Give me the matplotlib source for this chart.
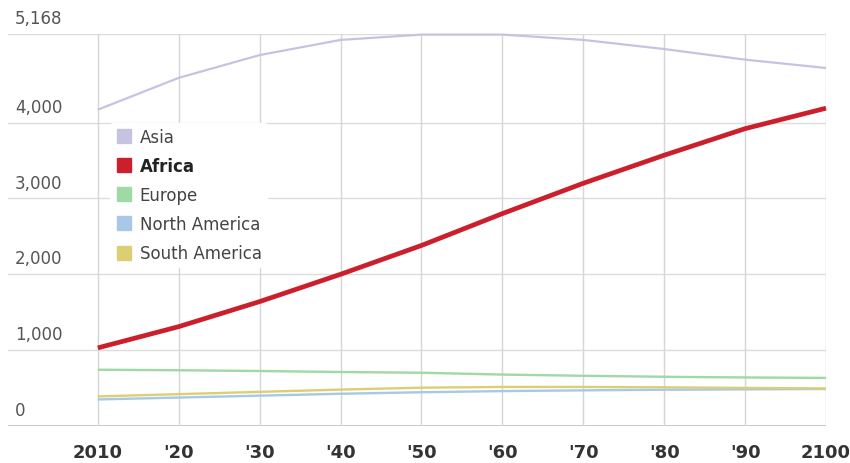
import matplotlib.pyplot as plt
import matplotlib.transforms as mtransforms
from matplotlib.lines import Line2D

# Population projections (millions) by region
years = [2010, 2020, 2030, 2040, 2050, 2060, 2070, 2080, 2090, 2100]
asia = [4170, 4590, 4890, 5090, 5160, 5160, 5090, 4970, 4830, 4720]
africa = [1030, 1310, 1640, 2000, 2380, 2800, 3200, 3570, 3920, 4190]
europe = [742, 735, 725, 712, 702, 678, 662, 649, 640, 634]
north_america = [350, 375, 400, 425, 445, 460, 470, 478, 483, 488]
south_america = [390, 420, 450, 480, 505, 515, 515, 510, 502, 495]

regions = ["Asia", "Africa", "Europe", "North America", "South America"]
series = [asia, africa, europe, north_america, south_america]
colors = ["#c6c3e2", "#cc1f2c", "#9fd9a6", "#a9c7e6", "#dccf73"]
widths = [1.6, 3.4, 1.7, 1.7, 1.7]

y_ticks = [0, 1000, 2000, 3000, 4000, 5168]
y_labels = ["0", "1,000", "2,000", "3,000", "4,000", "5,168"]
x_labels = ["2010", "'20", "'30", "'40", "'50", "'60", "'70", "'80", "'90", "2100"]

plt.rcParams['font.family'] = ['DejaVu Sans']

fig = plt.figure(figsize=(8.5, 4.64), dpi=100)
ax = fig.add_axes([8 / 850, 1 - 427 / 464, 818 / 850, 392 / 464])

# grid
for yv in y_ticks:
    ax.axhline(yv, color="#bdbdbd" if yv == 0 else "#dcdcdc", lw=1.2 if yv == 0 else 1.0, zorder=0)
for xv in years:
    ax.axvline(xv, color="#d6d6d6", lw=1.0, zorder=0)

# lines, Africa drawn last so it stays on top
order = [0, 2, 3, 4, 1]
for i in order:
    ax.plot(years, series[i], color=colors[i], lw=widths[i], clip_on=False,
            solid_capstyle="butt", zorder=3 if i == 1 else 2)

ax.set_xlim(1998.9, 2100)
ax.set_ylim(0, 5168)
for s in ax.spines.values():
    s.set_visible(False)

ax.set_xticks(years)
ax.set_xticklabels(x_labels, fontsize=13, fontweight="bold", color="#333333")
ax.set_yticks(y_ticks)
ax.set_yticklabels(y_labels, fontsize=12, color="#555555")
ax.tick_params(axis="x", length=0, pad=12)
ax.tick_params(axis="y", length=0, pad=-5)
offset = mtransforms.ScaledTranslation(0, 5 / 72, fig.dpi_scale_trans)
for lab in ax.get_yticklabels():
    lab.set_horizontalalignment("left")
    lab.set_verticalalignment("bottom")
    lab.set_transform(lab.get_transform() + offset)

handles = [Line2D([], [], marker="s", linestyle="none", markersize=10,
                  markerfacecolor=c, markeredgecolor=c) for c in colors]
leg = ax.legend(handles, regions, loc="upper left", bbox_to_anchor=(0.115, 0.795),
                frameon=True, facecolor="white", edgecolor="white", framealpha=1,
                fontsize=12, labelspacing=0.67, handletextpad=0.45, handlelength=1.0,
                borderpad=0.3)
for t in leg.get_texts():
    t.set_color("#444444")
leg.get_texts()[1].set_fontweight("bold")
leg.get_texts()[1].set_color("#222222")

fig.savefig("out.png", dpi=100)
